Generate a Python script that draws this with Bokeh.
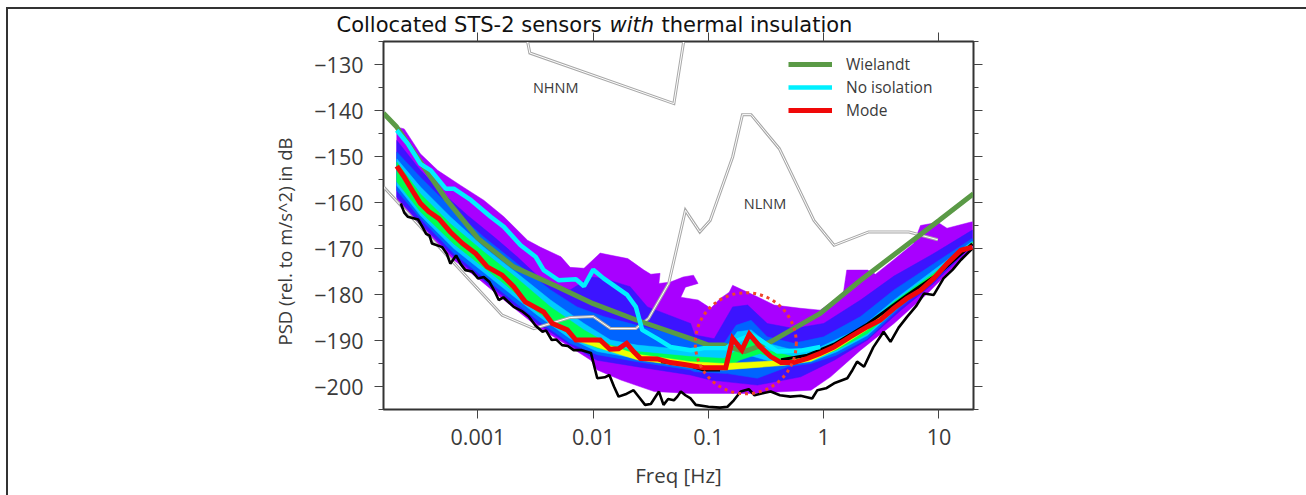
from bokeh.plotting import figure
from bokeh.models import Range1d, FixedTicker, LinearAxis, LogAxis, Legend, LegendItem, Title
from bokeh.core.properties import value
from bokeh.embed import file_html
from bokeh.resources import INLINE

# all curves: (log10 frequency in Hz, PSD in dB)
wielandt = [(-3.82,-140.6),(-3.705,-143.6),(-3.5,-151.2),(-3.27,-159.5),(-3.0,-167.8),(-2.69,-174),(-2.31,-178.3),(-2.0,-182),(-1.62,-185.6),(-1.155,-189.6),(-1.0,-191),(-0.865,-191),(-0.69,-192.4),(-0.46,-190.3),(-0.03,-184.1),(0.32,-176.9),(1.0,-163.9),(1.30,-158.1)]
no_isolation = [(-3.705,-144.3),(-3.61,-147.2),(-3.5,-151.6),(-3.41,-153),(-3.28,-157),(-3.21,-157),(-3.06,-159.5),(-2.89,-163.1),(-2.775,-165.3),(-2.63,-169.3),(-2.5,-171.8),(-2.43,-174.7),(-2.3,-176.9),(-2.15,-176.7),(-2.08,-178.2),(-2.0,-174.6),(-1.91,-176.5),(-1.705,-180.1),(-1.63,-182.7),(-1.575,-187.7),(-1.445,-189.6),(-1.33,-191.4),(-1.155,-192.1),(-1.04,-191.7),(-0.85,-191.7),(-0.75,-190),(-0.63,-188.8),(-0.55,-189.9),(-0.40,-192.4),(-0.2,-192.2),(-0.03,-191.4)]
mode = [(-3.705,-152.1),(-3.64,-154.5),(-3.57,-157.4),(-3.50,-160.2),(-3.425,-162),(-3.34,-163.5),(-3.24,-166.4),(-3.135,-168.9),(-3.02,-171.1),(-2.92,-174),(-2.79,-175.8),(-2.69,-178.3),(-2.59,-181.6),(-2.43,-183.8),(-2.355,-186.3),(-2.225,-187.7),(-2.15,-189.9),(-1.94,-189.9),(-1.855,-191.9),(-1.78,-191.8),(-1.71,-190.6),(-1.65,-192.4),(-1.59,-193.9),(-1.445,-194),(-1.33,-194.8),(-1.21,-195.2),(-1.04,-195.9),(-0.85,-195.9),(-0.79,-189.6),(-0.71,-192.1),(-0.645,-188.6),(-0.55,-191.4),(-0.46,-193.5),(-0.37,-194.8),(-0.26,-194.8),(-0.14,-193.9),(-0.03,-192.8),(0.09,-191.4),(0.23,-189.2),(0.38,-187),(0.49,-185.6),(0.61,-183),(0.72,-180.9),(0.84,-179.1),(0.955,-176.5),(1.07,-173.3),(1.19,-170.4),(1.29,-169.7)]
black_low = [(-3.67,-160.2),(-3.64,-162.2),(-3.61,-163.1),(-3.52,-163.7),(-3.48,-165.4),(-3.45,-166.8),(-3.42,-167.2),(-3.40,-168.9),(-3.31,-169.7),(-3.27,-171.2),(-3.24,-173.3),(-3.19,-171.5),(-3.15,-173.4),(-3.11,-174.7),(-3.05,-175),(-3.0,-176.5),(-2.95,-176.2),(-2.9,-177.3),(-2.85,-179.6),(-2.82,-181.2),(-2.78,-180.6),(-2.69,-182.7),(-2.62,-183.6),(-2.56,-184.8),(-2.5,-186.8),(-2.44,-188.1),(-2.41,-187.8),(-2.36,-189.9),(-2.32,-189.8),(-2.27,-191),(-2.22,-191.2),(-2.17,-192.1),(-2.1,-192.1),(-2.02,-192.7),(-1.965,-198.2),(-1.9,-198),(-1.86,-197.5),(-1.82,-200),(-1.78,-202.2),(-1.72,-201.7),(-1.65,-200.8),(-1.6,-202.4),(-1.55,-204),(-1.5,-203.8),(-1.43,-201.1),(-1.39,-204),(-1.35,-202.7),(-1.3,-203),(-1.27,-202.2),(-1.24,-201.1),(-1.2,-201.9),(-1.155,-202.6),(-1.11,-204),(-1.0,-204.4),(-0.9,-204.6),(-0.835,-204.4),(-0.78,-203),(-0.72,-201.1),(-0.65,-200.6),(-0.6,-201.9),(-0.52,-201.4),(-0.46,-201.1),(-0.38,-201.9),(-0.29,-202.2),(-0.2,-202),(-0.1,-202.6),(-0.055,-200.8),(0.02,-200.4),(0.09,-199.3),(0.205,-198.2),(0.25,-196.4),(0.29,-194.6),(0.35,-195.7),(0.43,-191.5),(0.52,-188.1),(0.58,-190.3),(0.65,-187.2),(0.725,-184.8),(0.8,-182.6),(0.87,-179.8),(0.955,-180.1),(1.04,-176.5),(1.12,-174.6),(1.19,-172.5),(1.29,-170)]
black_high = [(-1.41,-194.6),(-1.2,-195.2),(-1.04,-196.4),(-0.9,-196.4)]
black_high_right = [(-0.37,-194.2),(-0.14,-193.2),(0.09,-190.8),(0.38,-186.4),(0.72,-180.2),(1.0,-175.4),(1.29,-169)]
nhnm = [(-2.57,-125),(-2.55,-127.5),(-1.30,-138.5),(-1.215,-125)]
nlnm = [(-3.82,-156.6),(-2.79,-184.5),(-2.515,-187.4),(-2.2,-185),(-2.0,-184.8),(-1.85,-187.4),(-1.63,-187.4),(-1.52,-185.2),(-1.345,-177.6),(-1.2,-161.7),(-1.075,-166.4),(-0.985,-163.9),(-0.79,-150.1),(-0.705,-140.9),(-0.63,-140.9),(-0.385,-148.3),(-0.085,-163.9),(0.09,-169.3),(0.39,-166.4),(0.74,-166.4),(0.99,-168.1)]

purple_upper = [(-3.705,-143.6),(-3.64,-144),(-3.5,-149.4),(-3.35,-153),(-3.15,-156.3),(-2.95,-159.5),(-2.775,-163.1),(-2.57,-168.2),(-2.46,-169.7),(-2.28,-171.8),(-2.2,-174.1),(-2.08,-174.3),(-1.94,-171),(-1.7,-172.2),(-1.56,-174.7),(-1.5,-175.6),(-1.42,-175.4),(-1.43,-177.6),(-1.33,-177.3),(-1.22,-176.2),(-1.13,-175.8),(-1.09,-177.6),(-1.2,-178.4),(-1.24,-180.6),(-1.09,-181.2),(-0.98,-183),(-0.9,-180.9),(-0.82,-179.5),(-0.79,-178),(-0.575,-180.5),(-0.43,-182.3),(-0.2,-183),(-0.03,-183.4),(0.17,-179.8),(0.2,-174.7),(0.38,-174.7),(0.45,-175.6),(0.6,-172.6),(0.78,-168.9),(0.84,-165),(0.99,-164.3),(1.07,-165.6),(1.27,-164.3),(1.29,-164.2)]
purple_lower = [(-3.705,-159.5),(-3.5,-165.3),(-3.21,-172.5),(-3.0,-176.5),(-2.775,-181.2),(-2.485,-187),(-2.2,-191.4),(-2.02,-194.3),(-1.965,-196.4),(-1.76,-198.6),(-1.47,-201.1),(-1.155,-201.5),(-0.98,-201.5),(-0.63,-201.5),(-0.11,-200.8),(0.06,-197.9),(0.32,-192.1),(0.61,-186.3),(0.9,-179.8),(1.13,-174),(1.29,-169.7)]
blue_upper = [(-3.705,-146.5),(-3.5,-153),(-3.3,-158.1),(-3.09,-162.8),(-2.86,-167.5),(-2.66,-171.8),(-2.43,-177.2),(-2.2,-179),(-2.02,-176.2),(-1.91,-176.5),(-1.68,-178.3),(-1.53,-182.7),(-1.155,-186.3),(-1.12,-188.8),(-0.95,-189.6),(-0.79,-182.7),(-0.66,-182.3),(-0.49,-186.3),(-0.26,-187.4),(0,-186.3),(0.32,-181.2),(0.61,-176),(0.955,-171.1),(1.29,-166)]
blue_lower = [(-3.705,-158.8),(-3.5,-164.6),(-3.21,-171.8),(-2.775,-180.5),(-2.485,-186.3),(-2.2,-191),(-1.965,-194.3),(-1.62,-195.7),(-1.155,-197.5),(-0.98,-198.6),(-0.575,-199.7),(-0.2,-197.9),(0.09,-194.3),(0.38,-189.9),(0.67,-183.4),(0.955,-177.6),(1.29,-169.3)]
midblue_upper = [(-3.705,-149),(-3.5,-154.5),(-3.24,-161),(-2.95,-167.5),(-2.66,-173.3),(-2.37,-179),(-2.14,-182.7),(-1.91,-184.8),(-1.62,-186.7),(-1.155,-189.6),(-1.04,-190.6),(-0.865,-190.6),(-0.76,-186.7),(-0.63,-185.6),(-0.49,-189.2),(-0.26,-190.6),(0,-189.2),(0.32,-184.8),(0.61,-179),(0.955,-173.3),(1.29,-167.8)]
midblue_lower = [(-3.705,-157.4),(-3.5,-163.5),(-3.21,-171.1),(-2.775,-179.8),(-2.485,-185.6),(-2.2,-190.6),(-1.965,-193.1),(-1.62,-194.6),(-1.155,-196.4),(-1.12,-196.8),(-0.835,-197.2),(-0.575,-198.2),(-0.31,-195.7),(-0.11,-195),(0.11,-193.2),(0.38,-189.6),(0.67,-182.7),(0.955,-176.9),(1.29,-169)]
skyblue_upper = [(-3.705,-150.5),(-3.5,-156.6),(-3.24,-163.1),(-2.95,-169.7),(-2.66,-175.4),(-2.37,-181.2),(-2.08,-186.3),(-1.85,-189.9),(-1.62,-191),(-1.155,-192.1),(-0.865,-192.1),(-0.75,-188.1),(-0.63,-187.7),(-0.49,-190.6),(-0.26,-192.1),(-0.03,-191.4),(0.32,-187.3),(0.61,-181.2),(0.955,-174.7),(1.29,-168.4)]
skyblue_lower = [(-3.705,-156.3),(-3.5,-162.8),(-3.21,-170),(-2.775,-178.7),(-2.485,-184.5),(-2.2,-189.6),(-1.965,-192.4),(-1.62,-193.9),(-1.155,-196),(-0.865,-196.4),(-0.75,-192.5),(-0.55,-193.9),(-0.34,-195.3),(-0.11,-194.6),(0.11,-192.5),(0.38,-188.9),(0.67,-182.3),(0.955,-176.5),(1.29,-168.9)]
green_upper = [(-3.705,-151.2),(-3.5,-158.1),(-3.24,-164.6),(-2.95,-170.7),(-2.66,-176.5),(-2.37,-182.7),(-2.08,-187.7),(-1.85,-191),(-1.62,-192.4),(-1.155,-193.5),(-0.865,-193.9),(-0.75,-192),(-0.63,-189.9),(-0.49,-192.1),(-0.26,-193.5),(-0.03,-192.5),(0.32,-188),(0.61,-181.6),(0.955,-175.4),(1.29,-168.6)]
green_lower = [(-3.705,-155.5),(-3.5,-162),(-3.21,-169),(-2.775,-177.6),(-2.485,-183.8),(-2.2,-188.8),(-1.965,-191.7),(-1.62,-193.2),(-1.155,-195.8),(-0.865,-196.2),(-0.72,-194.2),(-0.55,-192.8),(-0.34,-195),(-0.11,-194.2),(0.11,-192.1),(0.38,-188.5),(0.67,-182),(0.955,-176.1),(1.29,-168.8)]
yellow_upper = [(-2.1,-189.6),(-1.85,-191.2),(-1.62,-193),(-1.155,-194.6),(-0.865,-195),(-0.26,-194.2),(-0.03,-192.2),(0.32,-187.8),(0.61,-182.2),(0.955,-175.8),(1.29,-168.9)]
yellow_lower = [(-2.1,-190.4),(-1.85,-192.4),(-1.62,-194.2),(-1.155,-195.8),(-0.865,-196.4),(-0.34,-195.4),(-0.11,-194.5),(0.11,-191.9),(0.38,-187.6),(0.67,-182),(0.955,-176.6),(1.29,-169.1)]

x_tick_values = [0.001, 0.01, 0.1, 1, 10]
x_tick_labels = ["0.001", "0.01", "0.1", "1", "10"]
y_tick_values = [-130, -140, -150, -160, -170, -180, -190, -200]
y_minor_values = [-125, -135, -145, -155, -165, -175, -185, -195, -205]
curve_labels = ["NHNM", "NLNM"]
curve_label_freq = [-2.326, -0.509]
curve_label_db = [-135, -160.2]
marker_freq = [-0.676]
marker_db = [-190.6]
y_title = "PSD (rel. to m/s^2) in dB"
title_parts = ["Collocated STS-2 sensors", "with", "thermal insulation"]
title_styles = ["normal", "italic", "normal"]
title_x = [336, 609, 661]

INK = "#3a3a3a"
FONT = "Open Sans"
RULE = "linear-gradient(#333333,#333333)"

def xs(pts):
    return [10 ** a for a, _ in pts]

def ys(pts):
    return [b for _, b in pts]

# header strip: carries the title
head = figure(width=1306, height=32, x_range=Range1d(0, 1306), y_range=Range1d(32, 0),
              x_axis_type=None, y_axis_type=None, output_backend="svg", toolbar_location=None,
              min_border=0, outline_line_color=None, background_fill_alpha=0, border_fill_alpha=0,
              styles={"background": f"{RULE} 6px 7px/1300px 2px no-repeat, {RULE} 6px 7px/2px 25px no-repeat"})
head.grid.visible = False
for tx, ts, tp in zip(title_x, title_styles, title_parts):
    head.text([tx], [24], text=[tp], text_font=value("DejaVu Sans"), text_font_size="21px",
              text_font_style=ts, text_color="#111111", text_baseline="alphabetic")

p = figure(width=1306, height=463, x_axis_type="log", output_backend="svg", toolbar_location=None,
           x_range=Range1d(10 ** -3.82, 10 ** 1.30), y_range=Range1d(-205, -125),
           min_border_left=383, min_border_right=333, min_border_top=9, min_border_bottom=86,
           background_fill_color="white", border_fill_alpha=0,
           styles={"background": f"{RULE} 6px 0/2px 463px no-repeat"})
p.grid.visible = False
p.outline_line_color = "#333333"
p.outline_line_width = 2

def band(up, lo, colour):
    p.patch(xs(up) + xs(lo)[::-1], ys(up) + ys(lo)[::-1], fill_color=colour, line_color=colour, line_width=0.5)

band(purple_upper, purple_lower, "#a800ff")
band(blue_upper, blue_lower, "#3c14ff")
band(midblue_upper, midblue_lower, "#0064ff")
band(skyblue_upper, skyblue_lower, "#00ccff")
band(green_upper, green_lower, "#00ff50")
band(yellow_upper, yellow_lower, "#f0ff00")

for curve in (nhnm, nlnm):
    p.line(xs(curve), ys(curve), line_color="#a8a8a8", line_width=3, line_join="miter")
    p.line(xs(curve), ys(curve), line_color="#ffffff", line_width=1, line_join="miter")

p.line(xs(black_low), ys(black_low), line_color="#000000", line_width=2.6)
p.line(xs(black_high), ys(black_high), line_color="#000000", line_width=3)
p.line(xs(black_high_right), ys(black_high_right), line_color="#000000", line_width=3)
r_w = p.line(xs(wielandt), ys(wielandt), line_color="#5a9a46", line_width=5)
r_c = p.line(xs(no_isolation), ys(no_isolation), line_color="#00f0ff", line_width=4.5)
r_m = p.line(xs(mode), ys(mode), line_color="#f00808", line_width=5, line_join="miter")

p.scatter([10 ** v for v in marker_freq], marker_db, marker="circle", size=101, fill_alpha=0,
          line_color="#f0452a", line_width=3, line_dash="3 4")
p.text([10 ** v for v in curve_label_freq], curve_label_db, text=curve_labels,
       text_font=value(FONT), text_font_size="14.5px", text_color=INK, text_align="center", text_baseline="middle")

legend = Legend(items=[LegendItem(label="Wielandt", renderers=[r_w]),
                       LegendItem(label="No isolation", renderers=[r_c]),
                       LegendItem(label="Mode", renderers=[r_m])],
                location=(405, 288), padding=0, margin=0, spacing=1, glyph_width=44, glyph_height=20,
                label_standoff=14, label_text_font=FONT, label_text_font_size="15.5px", label_text_color=INK,
                border_line_color=None, background_fill_alpha=0)
p.add_layout(legend, "center")

def style(ax):
    ax.axis_line_color = "#333333"
    ax.axis_line_width = 1
    ax.major_tick_line_color = "#444444"
    ax.minor_tick_line_color = "#444444"
    ax.major_tick_in = 0
    ax.minor_tick_in = 0
    ax.major_tick_out = 9
    ax.minor_tick_out = 5

xt = FixedTicker(ticks=x_tick_values, minor_ticks=[])
yt = FixedTicker(ticks=y_tick_values, minor_ticks=y_minor_values)
ax_b = p.xaxis[0]
ax_l = p.yaxis[0]
ax_b.ticker = xt
ax_l.ticker = yt
ax_b.major_label_overrides = dict(zip(x_tick_values, x_tick_labels))
ax_l.major_label_overrides = {v: "\u2212" + str(-v) for v in y_tick_values}
for ax in (ax_b, ax_l):
    style(ax)
    ax.major_label_text_font = FONT
    ax.major_label_text_font_size = "21.5px"
    ax.major_label_text_color = INK
ax_b.axis_label = "Freq [Hz]"
ax_b.axis_label_text_font = FONT
ax_b.axis_label_text_font_size = "20.5px"
ax_b.axis_label_text_font_style = "normal"
ax_b.axis_label_text_color = INK
ax_b.major_label_standoff = 10
ax_b.axis_label_standoff = 13
ax_l.major_label_standoff = 11

ax_t = LogAxis(ticker=xt, major_label_overrides={v: "" for v in x_tick_values})
ax_r = LinearAxis(ticker=yt, major_label_overrides={v: "" for v in y_tick_values})
style(ax_t)
style(ax_r)
p.add_layout(ax_t, "above")
p.add_layout(ax_r, "right")

p.add_layout(Title(text=y_title, align="left", offset=64, standoff=30, text_font=FONT, text_font_size="18.5px",
                   text_font_style="normal", text_color=INK), "left")

open("out.html", "w").write(file_html([head, p], INLINE))
